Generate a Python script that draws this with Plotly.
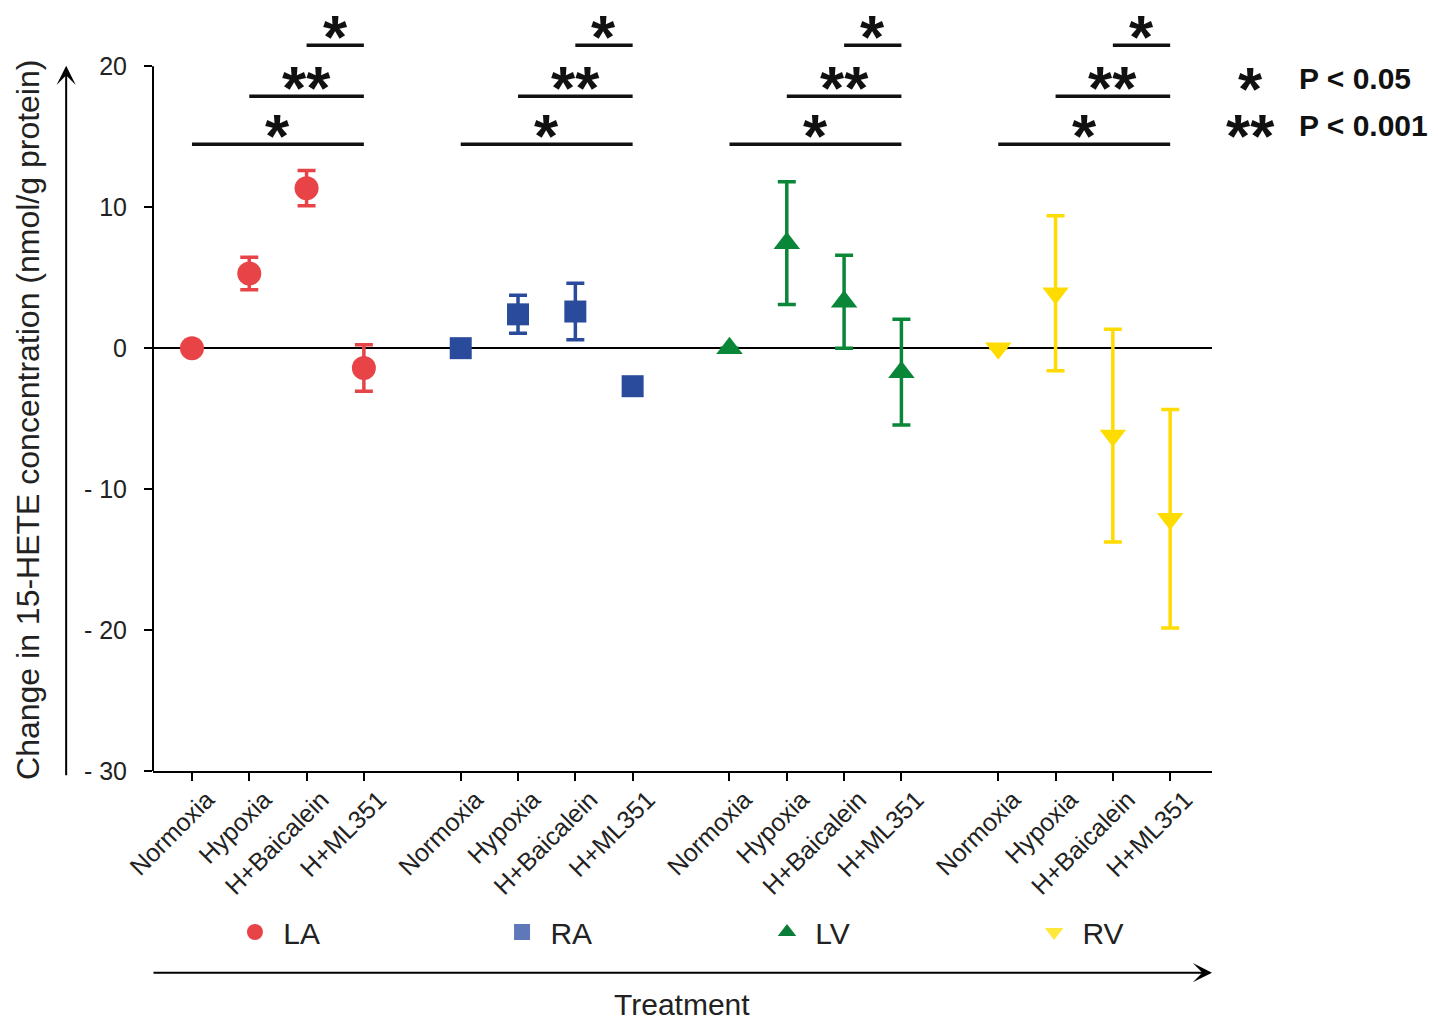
import plotly.graph_objects as go

# ---------------- data ----------------
treatments = ["Normoxia", "Hypoxia", "H+Baicalein", "H+ML351"]
tissues = ["LA", "RA", "LV", "RV"]

la_mean = [0.0, 5.3, 11.35, -1.4]
la_err = [None, 1.15, 1.25, 1.65]
ra_mean = [0.0, 2.4, 2.6, -2.7]
ra_err = [None, 1.35, 2.0, None]
lv_mean = [0.0, 7.45, 3.3, -1.7]
lv_err = [None, 4.35, 3.3, 3.75]
rv_mean = [0.0, 3.9, -6.2, -12.1]
rv_err = [None, 5.5, 7.55, 7.75]

y_tick_vals = [20, 10, 0, -10, -20, -30]
y_tick_text = ["20", "10", "0", "- 10", "- 20", "- 30"]

# significance brackets within each tissue group: (from, to, label, height)
sig_from = [0, 1, 2]
sig_to = [3, 3, 3]
sig_label = ["*", "**", "*"]
sig_level = [14.47, 17.87, 21.5]

legend_labels = ["LA", "RA", "LV", "RV"]
p_stars = ["*", "**"]
p_texts = ["P < 0.05", "P < 0.001"]

# ---------------- styling ----------------
data_colors = ["#e84448", "#2a4b9b", "#0a8639", "#ffdc00"]
legend_colors = ["#e84448", "#5f78b9", "#0a7d38", "#ffe83c"]
symbols = ["circle", "square", "triangle-up", "triangle-down"]
sizes = [24, 22, 23, 23]
legend_x = [0.0774, 0.3296, 0.5798, 0.832]
FONT = "Arial, Liberation Sans, Helvetica, sans-serif"
GROUP_GAP = 4.69

means = [la_mean, ra_mean, lv_mean, rv_mean]
errs = [la_err, ra_err, lv_err, rv_err]

fig = go.Figure()
tickvals, ticktext = [], []
for g, tissue in enumerate(tissues):
    xs = [g * GROUP_GAP + i for i in range(len(treatments))]
    tickvals += xs
    ticktext += treatments
    fig.add_trace(go.Scatter(
        x=xs, y=means[g], mode="markers", name=tissue, showlegend=False,
        marker=dict(symbol=symbols[g], size=sizes[g], color=data_colors[g],
                    line=dict(width=0)),
        error_y=dict(type="data", array=errs[g], visible=True,
                     color=data_colors[g], thickness=3.5, width=9),
    ))
    for f, t, lab, lev in zip(sig_from, sig_to, sig_label, sig_level):
        fig.add_shape(type="line", xref="x", yref="y",
                      x0=xs[f], x1=xs[t], y0=lev, y1=lev,
                      line=dict(color="#111", width=3.5))
        fig.add_annotation(x=(xs[f] + xs[t]) / 2, y=lev, xref="x", yref="y",
                           text=lab, showarrow=False, yanchor="bottom",
                           yshift=-28,
                           font=dict(family=FONT, size=62, color="#111",
                                     weight="bold"))

# legend entries, each in its own legend box
legend_layout = {}
for k, (lab, col, sym, lx) in enumerate(zip(legend_labels, legend_colors,
                                             symbols, legend_x)):
    lname = "legend" if k == 0 else f"legend{k + 1}"
    fig.add_trace(go.Scatter(x=[None], y=[None], mode="markers",
                             name="\u00a0" + lab, legend=lname,
                             marker=dict(symbol=sym, size=20, color=col)))
    legend_layout[lname] = dict(x=lx, y=-0.2155, xanchor="left", yanchor="middle",
                                orientation="h", bgcolor="rgba(0,0,0,0)",
                                font=dict(family=FONT, size=30, color="#222"))

# y-axis line (only up to 20)
fig.add_shape(type="line", xref="paper", yref="y", x0=0, x1=0, y0=-30, y1=20,
              line=dict(color="black", width=2))

# outer arrows
fig.add_annotation(x=-0.082, y=0.944, xref="paper", yref="paper", ax=0, ay=711,
                   text="", showarrow=True, arrowhead=3, arrowsize=1.6,
                   arrowwidth=2, arrowcolor="black")
fig.add_annotation(x=1.0, y=-0.270, xref="paper", yref="paper", ax=-1060, ay=0,
                   text="", showarrow=True, arrowhead=3, arrowsize=1.6,
                   arrowwidth=2, arrowcolor="black")

# axis titles
fig.add_annotation(x=-0.118, y=0.47, xref="paper", yref="paper", showarrow=False,
                   xanchor="center", yanchor="middle",
                   text="Change in 15-HETE concentration (nmol/g protein)",
                   textangle=-90, font=dict(family=FONT, size=32, color="#222"))
fig.add_annotation(x=0.4995, y=-0.313, xref="paper", yref="paper", showarrow=False,
                   xanchor="center", yanchor="middle",
                   text="Treatment", font=dict(family=FONT, size=30, color="#222"))

# p-value key
key_y = [0.9277, 0.8635]
for s, t, yy in zip(p_stars, p_texts, key_y):
    fig.add_annotation(x=1.036, y=yy, xref="paper", yref="paper", showarrow=False,
                       text=s, xanchor="center", yanchor="middle", yshift=-10,
                       font=dict(family=FONT, size=62, color="#111", weight="bold"))
    fig.add_annotation(x=1.08, y=yy, xref="paper", yref="paper", showarrow=False,
                       text=t, xanchor="left", yanchor="middle",
                       font=dict(family=FONT, size=30, color="#111", weight="bold"))

fig.update_layout(
    width=1430, height=1011,
    margin=dict(l=145, r=226, t=16, b=248),
    paper_bgcolor="white", plot_bgcolor="white",
    font=dict(family=FONT, size=24, color="#222"),
    xaxis=dict(range=[-0.68, 17.8], tickvals=tickvals, ticktext=ticktext,
               tickangle=-45, showgrid=False, zeroline=False, showline=True,
               linecolor="black", linewidth=2, ticks="outside", ticklen=8,
               tickwidth=2, tickcolor="black", ticklabelshift=15,
               ticklabelstandoff=-6, automargin=False,
               tickfont=dict(family=FONT, size=25, color="#222")),
    yaxis=dict(range=[-30, 23], tickvals=y_tick_vals, ticktext=y_tick_text,
               showgrid=False, zeroline=True, zerolinecolor="black",
               zerolinewidth=2, showline=False, ticks="outside", ticklen=8,
               tickwidth=2, tickcolor="black", ticklabelstandoff=12,
               automargin=False,
               tickfont=dict(family=FONT, size=25, color="#222")),
    **legend_layout,
)

fig.write_html("out.html")
